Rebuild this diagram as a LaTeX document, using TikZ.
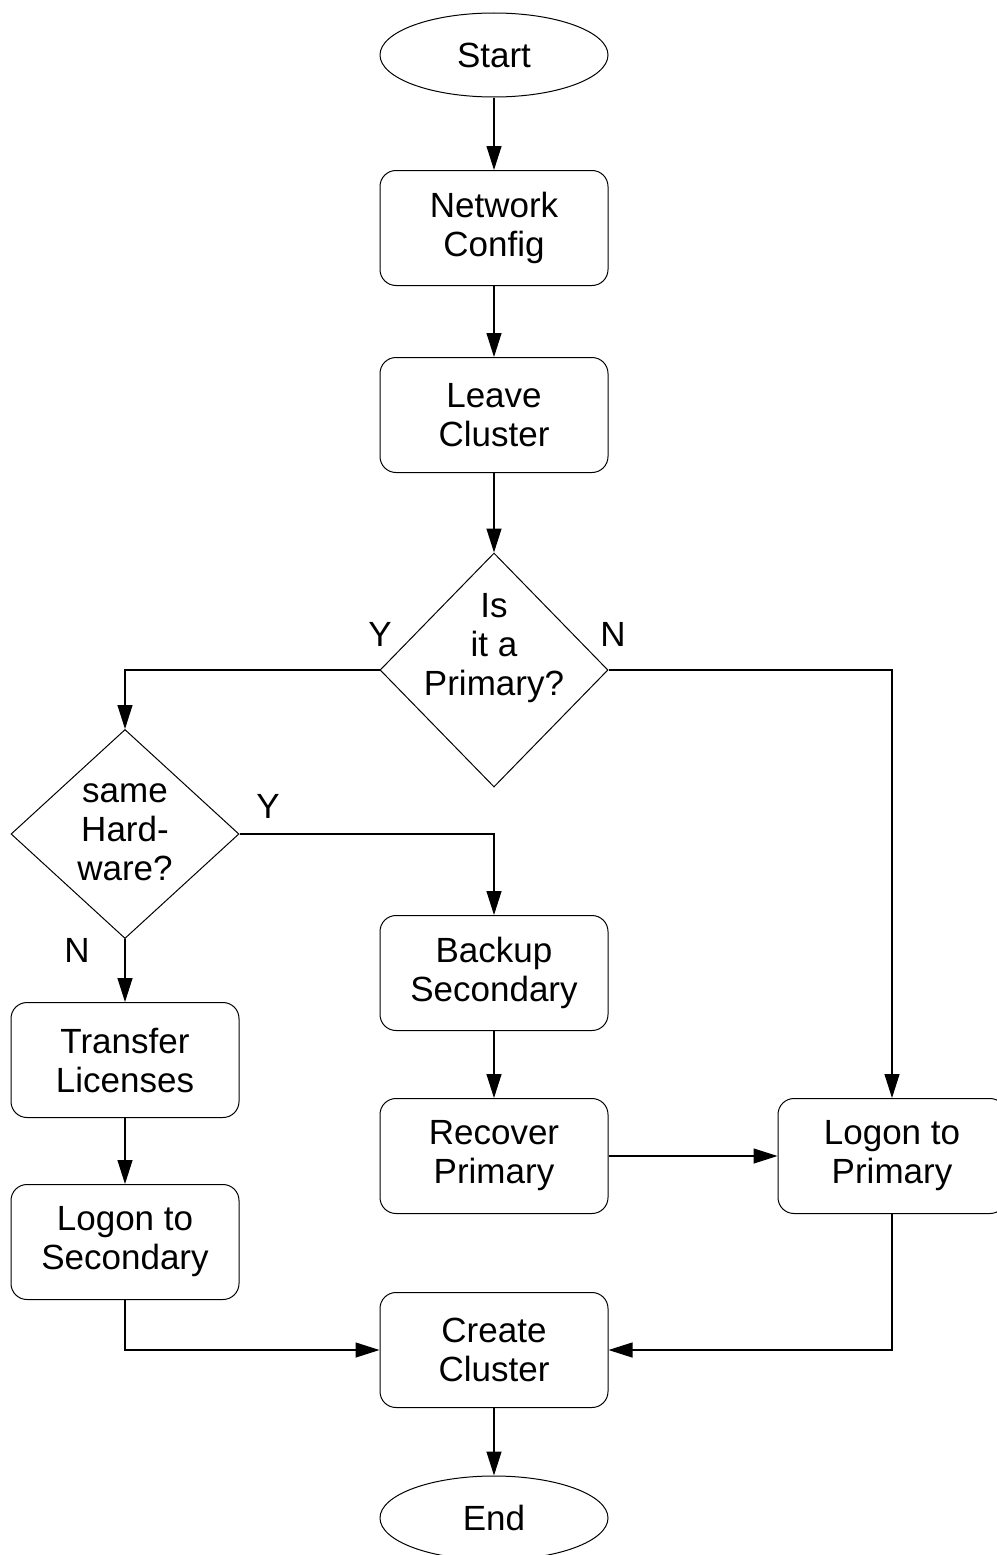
\documentclass[tikz,border=0pt]{standalone}
\usepackage{fontspec}
\setmainfont{Liberation Sans}
\usetikzlibrary{shapes.geometric,arrows.meta}

\newcommand{\ColLeft}{125}
\newcommand{\ColMid}{494}
\newcommand{\ColRight}{892}
\newcommand{\BoxW}{228pt}
\newcommand{\BoxH}{115pt}

\begin{document}
\begin{tikzpicture}[
  x = 1pt, y = -1pt,
  every node/.style={font=\fontsize{35pt}{39pt}\selectfont},
  process/.style={draw,line width=1pt,rounded corners=16pt,minimum width=\BoxW,minimum height=\BoxH,align=center,inner sep=0pt},
  terminal/.style={draw,line width=1pt,ellipse,minimum width=\BoxW,minimum height=84pt,inner sep=0pt},
  decision/.style={draw,line width=1pt,diamond,minimum width=\BoxW,inner sep=0pt},
  answer/.style={inner sep=0pt},
  flow/.style={line width=1.2pt,-{Triangle[length=24pt,width=15pt]}}
  ]

	\useasboundingbox[fill=white] (0,0) rectangle (996,1555);

	%draw the middle column
	\node[terminal] (start) at (\ColMid,55) {Start};
	\node[process] (netcfg) at (\ColMid,228) {Network\\Config};
	\node[process] (leave) at (\ColMid,415) {Leave\\Cluster};
	\node[decision, minimum height=234pt] (isprim) at (\ColMid,670) {};
	\node[align=center] (isprimtext) at (\ColMid,648) {Is\\it a\\Primary?};
	\node[process] (backup) at (\ColMid,973) {Backup\\Secondary};
	\node[process] (recover) at (\ColMid,1156) {Recover\\Primary};
	\node[process] (create) at (\ColMid,1350) {Create\\Cluster};
	\node[terminal] (finish) at (\ColMid,1518) {End};

	%draw the left column
	\node[decision, minimum height=209pt] (samehw) at (\ColLeft,834) {};
	\node[align=center] (samehwtext) at (\ColLeft,832) {same\\Hard-\\ware?};
	\node[process] (transfer) at (\ColLeft,1060) {Transfer\\Licenses};
	\node[process] (logonsec) at (\ColLeft,1242) {Logon to\\Secondary};

	%draw the right column
	\node[process] (logonprim) at (\ColRight,1156) {Logon to\\Primary};

	%answers of the decisions
	\node[answer] (isprimY) at (380,634) {Y};
	\node[answer] (isprimN) at (613,634) {N};
	\node[answer] (samehwY) at (268,806) {Y};
	\node[answer] (samehwN) at (77,950) {N};

	%draw the connectors
	\draw[flow] (start) -- (netcfg);
	\draw[flow] (netcfg) -- (leave);
	\draw[flow] (leave) -- (isprim);
	\draw[flow] (isprim.west) -| (samehw.north);
	\draw[flow] (isprim.east) -| (logonprim.north);
	\draw[flow] (samehw.east) -| (backup.north);
	\draw[flow] (samehw.south) -- (transfer);
	\draw[flow] (transfer) -- (logonsec);
	\draw[flow] (backup) -- (recover);
	\draw[flow] (recover) -- (logonprim);
	\draw[flow] (logonsec.south) |- (create.west);
	\draw[flow] (logonprim.south) |- (create.east);
	\draw[flow] (create) -- (finish);

\end{tikzpicture}
\end{document}
